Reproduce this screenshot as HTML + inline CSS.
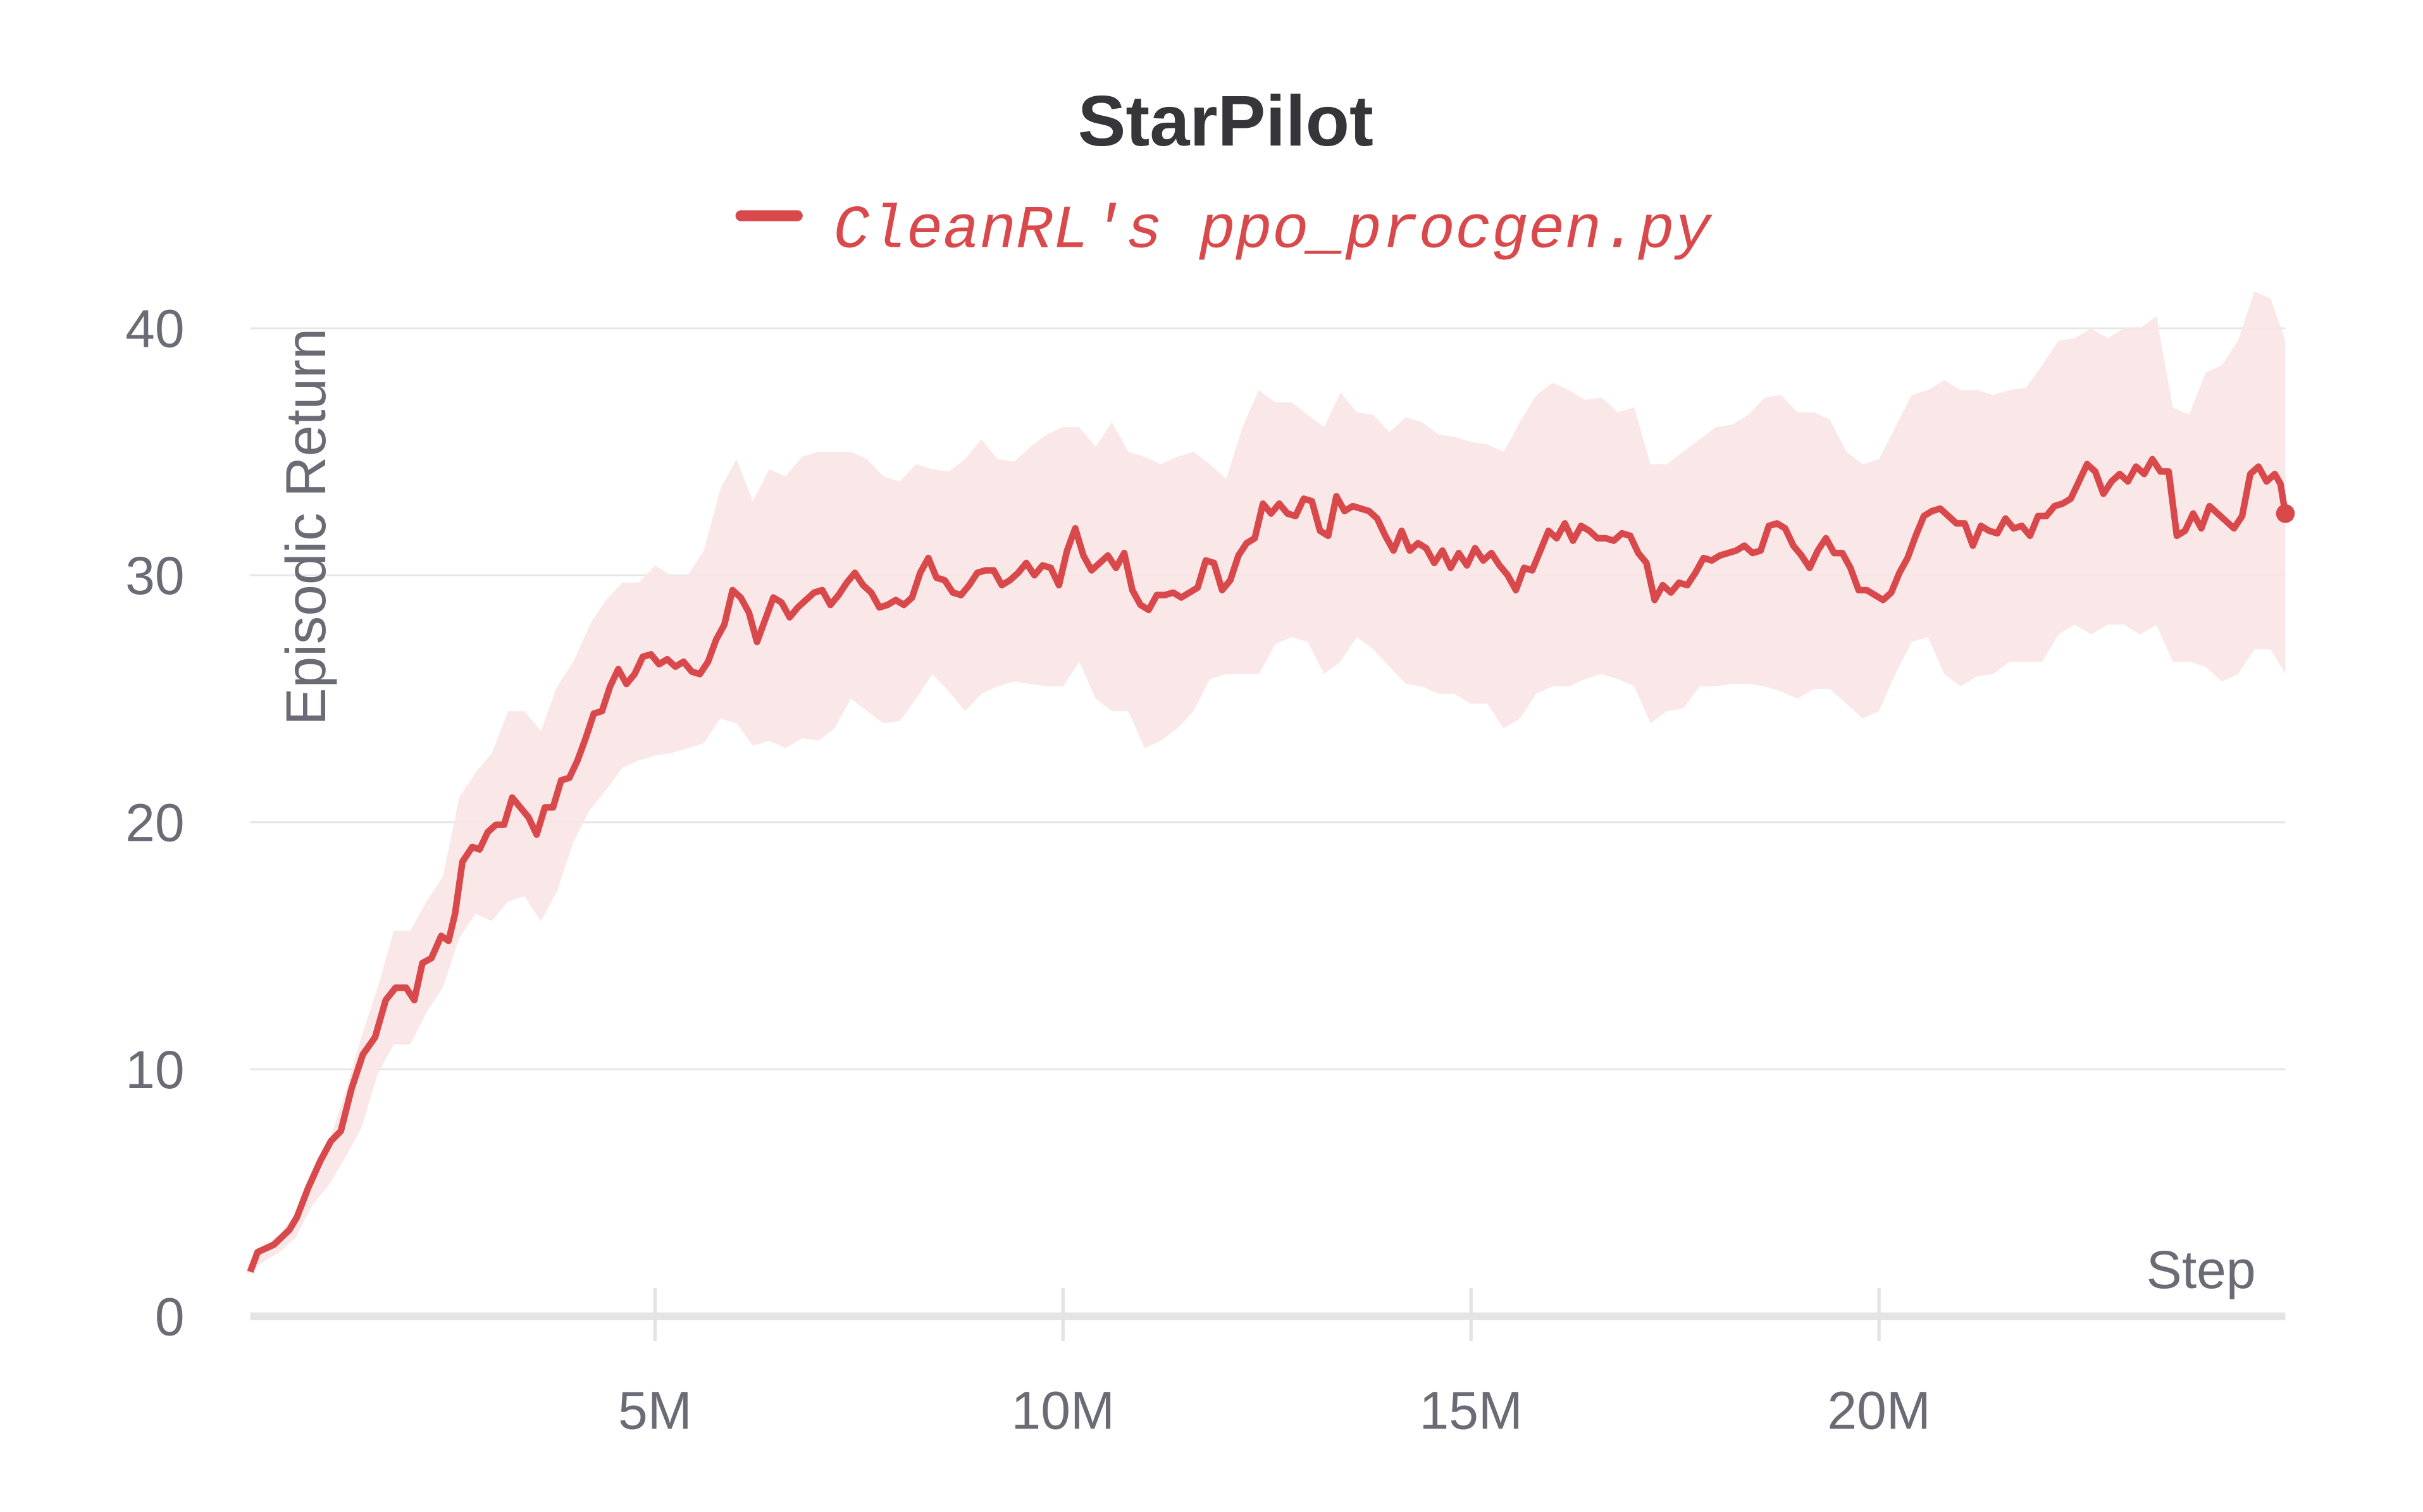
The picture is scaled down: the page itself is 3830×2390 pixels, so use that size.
<!DOCTYPE html>
<html><head><meta charset="utf-8"><style>
html,body{margin:0;padding:0;background:#fff;}
svg{display:block;}
</style></head><body>
<svg id="chart" width="3830" height="2390" viewBox="0 0 1550 967.2" preserveAspectRatio="none" xmlns="http://www.w3.org/2000/svg">
<rect x="0" y="0" width="1550" height="967.2" fill="#fff"/>
<text x="784" y="93" text-anchor="middle" font-family="Liberation Sans, sans-serif" font-weight="bold" font-size="46" fill="#35353a">StarPilot</text>
<g>
<line x1="474" y1="138" x2="510" y2="138" stroke="#d9494c" stroke-width="7" stroke-linecap="round"/>
<text x="533" y="158" font-family="Liberation Mono, monospace" font-style="italic" font-size="39" fill="#d9494c">CleanRL's ppo_procgen.py</text>
</g>
<g id="grid"></g>
<g id="band"></g>
<g id="axes"></g>
<g id="series"></g>
<text transform="translate(208,337) rotate(-90)" text-anchor="middle" font-family="Liberation Sans, sans-serif" font-size="36" fill="#6b6b76">Episodic Return</text>
<text x="1443" y="824" text-anchor="end" font-family="Liberation Sans, sans-serif" font-size="34" fill="#6b6b76">Step</text>
</svg>
<script>
const yTicks = [0, 10, 20, 30, 40];
const xTicks = [5, 10, 15, 20];
const xTickLabels = ["5M", "10M", "15M", "20M"];
const meanStepsEarly = [0.04,0.13,0.33,0.52,0.61,0.75,0.9,1.03,1.15,1.28,1.42,1.57,1.7,1.82,1.95,2.05,2.15,2.26,2.38,2.47,2.55,2.64,2.76];
const meanStepsLate = [2.85,2.95,3.05,3.15,3.25,3.35,3.45,3.55,3.65,3.75,3.85,3.95,4.05,4.15,4.25,4.35,4.45,4.55,4.65,4.75,4.85,4.95,5.05,5.15,5.25,5.35,5.45,5.55,5.65,5.75,5.85,5.95,6.05,6.15,6.25,6.35,6.45,6.55,6.65,6.75,6.85,6.95,7.05,7.15,7.25,7.35,7.45,7.55,7.65,7.75,7.85,7.95,8.05,8.15,8.25,8.35,8.45,8.55,8.65,8.75,8.85,8.95,9.05,9.15,9.25,9.35,9.45,9.55,9.65,9.75,9.85,9.95,10.05,10.15,10.25,10.35,10.45,10.55,10.65,10.75,10.85,10.95,11.05,11.15,11.25,11.35,11.45,11.55,11.65,11.75,11.85,11.95,12.05,12.15,12.25,12.35,12.45,12.55,12.65,12.75,12.85,12.95,13.05,13.15,13.25,13.35,13.45,13.55,13.65,13.75,13.85,13.95,14.05,14.15,14.25,14.35,14.45,14.55,14.65,14.75,14.85,14.95,15.05,15.15,15.25,15.35,15.45,15.55,15.65,15.75,15.85,15.95,16.05,16.15,16.25,16.35,16.45,16.55,16.65,16.75,16.85,16.95,17.05,17.15,17.25,17.35,17.45,17.55,17.65,17.75,17.85,17.95,18.05,18.15,18.25,18.35,18.45,18.55,18.65,18.75,18.85,18.95,19.05,19.15,19.25,19.35,19.45,19.55,19.65,19.75,19.85,19.95,20.05,20.15,20.25,20.35,20.45,20.55,20.65,20.75,20.85,20.95,21.05,21.15,21.25,21.35,21.45,21.55,21.65,21.75,21.85,21.95,22.05,22.15,22.25,22.35,22.45,22.55,22.65,22.75,22.85,22.95,23.05,23.15,23.25,23.35,23.45,23.55,23.65,23.75,23.85,23.95,24.05,24.15,24.25,24.35,24.45,24.55,24.65,24.75,24.85,24.92,24.98];
const meanValues = [1.8,2.6,2.9,3.5,4,5.2,6.3,7.1,7.5,9.2,10.6,11.3,12.8,13.3,13.3,12.8,14.3,14.5,15.4,15.2,16.3,18.4,19,
18.9,19.6,19.9,19.9,21,20.6,20.2,19.5,20.6,20.6,21.7,21.8,22.5,23.4,24.4,24.5,25.5,26.2,25.6,26,26.7,26.8,26.4,26.6,26.3,26.5,26.1,26,26.5,27.4,28,29.4,29.1,28.5,27.3,28.2,29.1,28.9,28.3,28.7,29,29.3,29.4,28.8,29.2,29.7,30.1,29.6,29.3,28.7,28.8,29,28.8,29.1,30.1,30.7,29.9,29.8,29.3,29.2,29.6,30.1,30.2,30.2,29.6,29.8,30.1,30.5,30,30.4,30.3,29.6,31,31.9,30.8,30.2,30.5,30.8,30.3,30.9,29.4,28.8,28.6,29.2,29.2,29.3,29.1,29.3,29.5,30.6,30.5,29.4,29.8,30.8,31.3,31.5,32.9,32.5,32.9,32.5,32.4,33.1,33,31.8,31.6,33.2,32.6,32.8,32.7,32.6,32.3,31.6,31,31.8,31,31.3,31.1,30.5,31,30.3,30.9,30.4,31.1,30.6,30.9,30.4,30,29.4,30.3,30.2,31,31.8,31.5,32.1,31.4,32,31.8,31.5,31.5,31.4,31.7,31.6,30.9,30.5,29,29.6,29.3,29.7,29.6,30.1,30.7,30.6,30.8,30.9,31,31.2,30.9,31,32,32.1,31.9,31.2,30.8,30.3,31,31.5,30.9,30.9,30.3,29.4,29.4,29.2,29,29.3,30.1,30.7,31.6,32.4,32.6,32.7,32.4,32.1,32.1,31.2,32,31.8,31.7,32.3,31.9,32,31.6,32.4,32.4,32.8,32.9,33.1,33.8,34.5,34.2,33.3,33.8,34.1,33.8,34.4,34.1,34.7,34.2,34.2,31.6,31.8,32.5,31.9,32.8,32.5,32.2,31.9,32.4,34.1,34.4,33.8,34.1,33.7,32.5];
const bandSteps = [0,0.2,0.4,0.6,0.8,1,1.2,1.4,1.6,1.8,2,2.2,2.4,2.6,2.8,3,3.2,3.4,3.6,3.8,4,4.2,4.4,4.6,4.8,5,5.2,5.4,5.6,5.8,6,6.2,6.4,6.6,6.8,7,7.2,7.4,7.6,7.8,8,8.2,8.4,8.6,8.8,9,9.2,9.4,9.6,9.8,10,10.2,10.4,10.6,10.8,11,11.2,11.4,11.6,11.8,12,12.2,12.4,12.6,12.8,13,13.2,13.4,13.6,13.8,14,14.2,14.4,14.6,14.8,15,15.2,15.4,15.6,15.8,16,16.2,16.4,16.6,16.8,17,17.2,17.4,17.6,17.8,18,18.2,18.4,18.6,18.8,19,19.2,19.4,19.6,19.8,20,20.2,20.4,20.6,20.8,21,21.2,21.4,21.6,21.8,22,22.2,22.4,22.6,22.8,23,23.2,23.4,23.6,23.8,24,24.2,24.4,24.6,24.8,24.98];
const bandUpper = [2.0,2.8,3.3,4.2,5.5,7,9,11.3,13.3,15.6,15.6,16.8,17.8,21,22,22.8,24.5,24.5,23.7,25.5,26.5,28,29,29.7,29.7,30.4,30,30,31,33.5,34.7,33,34.3,34,34.8,35,35,35,34.7,34,33.8,34.5,34.3,34.2,34.7,35.5,34.7,34.6,35.2,35.7,36,36,35.2,36.2,35,34.8,34.5,34.8,35,34.5,33.9,36,37.5,37,37,36.5,36,37.4,36.6,36.5,35.8,36.4,36.2,35.7,35.6,35.4,35.3,35,36.2,37.3,37.8,37.5,37.1,37.2,36.6,36.8,34.5,34.5,35,35.5,36,36.1,36.5,37.2,37.3,36.6,36.6,36.3,35,34.5,34.7,36,37.3,37.5,37.9,37.5,37.5,37.3,37.5,37.6,38.5,39.5,39.6,40,39.6,40,40,40.5,36.8,36.5,38.2,38.5,39.5,41.5,41.2,39.5];
const bandLower = [1.7,2.2,2.6,3.2,4.5,5.3,6.4,7.6,9.8,11,11,12.3,13.3,15.3,16.3,16,16.8,17,16,17.2,19.2,20.5,21.3,22.2,22.5,22.7,22.8,23,23.2,24.2,24,23.1,23.3,23,23.4,23.3,23.8,25,24.5,24,24.1,25,26,25.3,24.5,25.2,25.5,25.7,25.6,25.5,25.5,26.5,25,24.5,24.5,23,23.3,23.8,24.5,25.8,26,26,26,27.2,27.5,27.3,26,26.5,27.5,27,26.3,25.6,25.5,25.2,25.2,24.8,24.8,23.8,24.2,25.2,25.5,25.5,25.8,26,25.8,25.5,24,24.5,24.6,25.5,25.5,25.6,25.6,25.5,25.3,25,25.4,25.4,24.8,24.2,24.5,26,27.3,27.5,26,25.5,25.9,26,26.5,26.5,26.5,27.6,28,27.6,28,28,27.6,28,26.5,26.5,26.3,25.7,26,27,27,26];

const NS = "http://www.w3.org/2000/svg";
const X0 = 158, PXM = 52.2, Y0 = 842, PXU = 15.8, XL = 160, XR = 1462;
function xs(m){ return X0 + m * PXM; }
function ys(v){ return Y0 - v * PXU; }
function mk(tag, attrs, parent){
  const el = document.createElementNS(NS, tag);
  for (const k in attrs) el.setAttribute(k, attrs[k]);
  parent.appendChild(el);
  return el;
}
const grid = document.getElementById('grid');
const axes = document.getElementById('axes');
const band = document.getElementById('band');
const series = document.getElementById('series');

yTicks.forEach(function(t){
  if (t > 0) {
    const gl = mk('line', {x1: XL, x2: XR, y1: ys(t), y2: ys(t), stroke: '#e6e6e8', 'stroke-width': 1.2}, grid);
    
    
  }
  const tl = mk('text', {x: 118, y: ys(t) + 12, 'text-anchor': 'end', 'font-family': 'Liberation Sans, sans-serif', 'font-size': 34, fill: '#6b6b76'}, axes);
  tl.textContent = String(t);
  
  
});

const ax = mk('line', {x1: XL, x2: XR, y1: Y0, y2: Y0, stroke: '#e4e4e7', 'stroke-width': 5}, axes);



xTicks.forEach(function(t, i){
  const tk = mk('line', {x1: xs(t), x2: xs(t), y1: 824, y2: 858, stroke: '#e4e4e7', 'stroke-width': 2.2}, axes);
  
  
  const tl = mk('text', {x: xs(t), y: 914, 'text-anchor': 'middle', 'font-family': 'Liberation Sans, sans-serif', 'font-size': 34, fill: '#6b6b76'}, axes);
  tl.textContent = xTickLabels[i];
  
  
});

let bd = '';
bandSteps.forEach(function(s, i){ bd += (i ? 'L' : 'M') + xs(s).toFixed(2) + ',' + ys(bandUpper[i]).toFixed(2); });
for (let i = bandSteps.length - 1; i >= 0; i--) bd += 'L' + xs(bandSteps[i]).toFixed(2) + ',' + ys(bandLower[i]).toFixed(2);
bd += 'Z';
const bp = mk('path', {d: bd, fill: '#f9e6e7', 'fill-opacity': 0.9}, band);



const meanSteps = meanStepsEarly.concat(meanStepsLate);
let ld = '';
meanValues.forEach(function(v, i){ ld += (i ? 'L' : 'M') + xs(meanSteps[i]).toFixed(2) + ',' + ys(v).toFixed(2); });
const lp = mk('path', {d: ld, fill: 'none', stroke: '#d9494c', 'stroke-width': 4.2, 'stroke-linejoin': 'round'}, series);


const last = meanValues.length - 1;
const dot = mk('circle', {cx: xs(meanSteps[last]), cy: ys(meanValues[last]), r: 6, fill: '#d9494c'}, series);


</script>
</body></html>
